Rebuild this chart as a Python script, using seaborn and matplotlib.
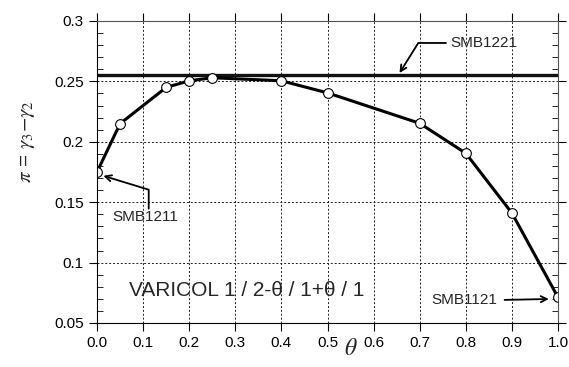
import pandas as pd
import seaborn as sns
import matplotlib.pyplot as plt
from matplotlib.ticker import MultipleLocator, FuncFormatter

# VARICOL 1 / 2-theta / 1+theta / 1 curve
theta = [0.0, 0.05, 0.15, 0.2, 0.25, 0.4, 0.5, 0.7, 0.8, 0.9, 1.0]
pi_val = [0.175, 0.215, 0.245, 0.2505, 0.253, 0.2505, 0.2405, 0.2153, 0.1905, 0.141, 0.0712]

# SMB1221 reference level
smb1221_theta = [0.0, 1.0]
smb1221_pi = [0.255, 0.255]

df = pd.DataFrame({'theta': theta, 'pi': pi_val})
ref = pd.DataFrame({'theta': smb1221_theta, 'pi': smb1221_pi})

sns.set_style('ticks')
plt.rcParams['font.family'] = ['Liberation Sans', 'DejaVu Sans']
plt.rcParams['mathtext.fontset'] = 'stix'

fig, ax = plt.subplots(figsize=(5.69, 3.67), dpi=100)
fig.subplots_adjust(left=0.1705, right=0.9807, top=0.9428, bottom=0.1199)

sns.lineplot(data=ref, x='theta', y='pi', ax=ax, color='#111111', linewidth=2.4)
sns.lineplot(data=df, x='theta', y='pi', ax=ax, color='black', linewidth=2.2,
             marker='o', markersize=7, markerfacecolor='white',
             markeredgecolor='black', markeredgewidth=0.8)

ax.set_xlim(0, 1.0)
ax.set_ylim(0.05, 0.3)
ax.xaxis.set_major_locator(MultipleLocator(0.1))
ax.yaxis.set_major_locator(MultipleLocator(0.05))
ax.yaxis.set_minor_locator(MultipleLocator(0.01))
ax.xaxis.set_major_formatter(FuncFormatter(lambda v, p: f'{v:.1f}'))
ax.yaxis.set_major_formatter(FuncFormatter(lambda v, p: f'{v:g}'))

ax.grid(True, which='major', linestyle=(0, (2, 2)), color='#222222', linewidth=0.7)
ax.tick_params(which='major', direction='out', length=6, width=0.8, labelsize=11,
               top=True, right=True, colors='black')
ax.tick_params(which='minor', direction='in', length=4, width=0.7, right=True, left=True)
for side in ['left', 'bottom']:
    ax.spines[side].set_color('black')
for side in ['top', 'right']:
    ax.spines[side].set_visible(True)
    ax.spines[side].set_color('#555555')

ax.set_xlabel(r'$\theta$', fontsize=17)
ax.xaxis.set_label_coords(0.55, -0.05)
ax.set_ylabel(r'$\pi$ = $\gamma_3$$-$$\gamma_2$', fontsize=15)
ax.yaxis.set_label_coords(-0.13, 0.6)

arrow = dict(arrowstyle='->', color='black', lw=1.3, shrinkA=3, shrinkB=2)
ax.annotate('SMB1221', xy=(0.653, 0.255), xytext=(0.766, 0.2818),
            fontsize=11, va='center', ha='left',
            arrowprops=dict(arrow, relpos=(0, 0.5), patchA=None,
                            connectionstyle='angle,angleA=180,angleB=58,rad=0'))
ax.annotate('SMB1211', xy=(0.008, 0.1725), xytext=(0.105, 0.1435),
            fontsize=11, va='top', ha='center',
            arrowprops=dict(arrow, relpos=(0.55, 1), patchA=None, shrinkA=1,
                            connectionstyle='angle,angleA=90,angleB=-17,rad=0'))
ax.annotate('SMB1121', xy=(0.986, 0.0699), xytext=(0.868, 0.069),
            fontsize=11, va='center', ha='right',
            arrowprops=dict(arrow, relpos=(1, 0.5)))
ax.text(0.07, 0.0773, 'VARICOL 1 / 2-θ / 1+θ / 1', fontsize=15, va='center', ha='left')

sns.despine(ax=ax, top=False, right=False)
plt.savefig('out.png', dpi=100)
